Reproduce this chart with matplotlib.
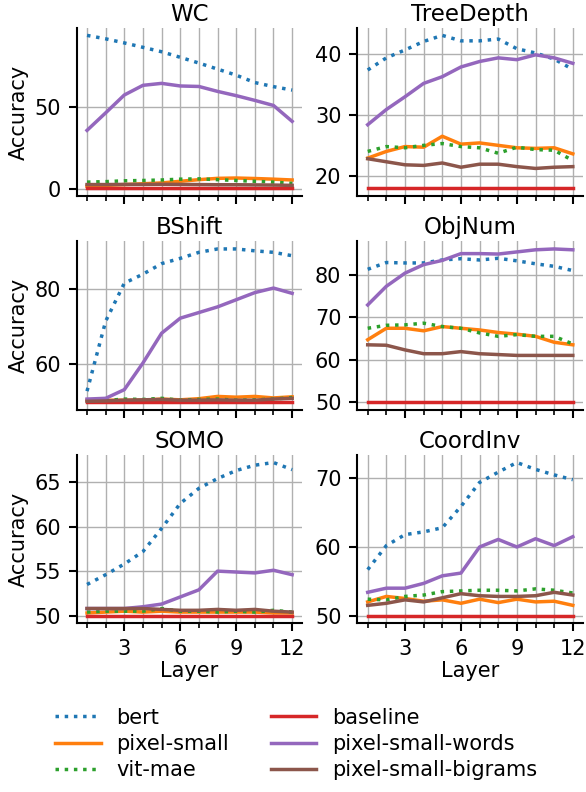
import numpy as np
import matplotlib.pyplot as plt
from matplotlib.ticker import MultipleLocator

layers = np.arange(1, 13)

tasks = ['WC', 'TreeDepth', 'BShift', 'ObjNum', 'SOMO', 'CoordInv']
models = ['bert', 'pixel-small', 'vit-mae', 'baseline', 'pixel-small-words', 'pixel-small-bigrams']

# Accuracy per layer
wc_bert = [93.6, 91.5, 89.0, 86.3, 83.6, 80.2, 76.7, 73.0, 69.3, 64.8, 62.3, 60.2]
wc_pixel = [1.5, 2.0, 2.5, 3.0, 3.5, 4.5, 5.5, 6.3, 6.5, 6.2, 5.8, 5.3]
wc_vit = [4.0, 4.3, 4.8, 5.0, 5.3, 5.8, 6.0, 5.5, 5.0, 4.5, 4.0, 3.2]
wc_base = [0.1] * 12
wc_words = [35.6, 46.3, 57.2, 63.1, 64.3, 62.7, 62.4, 59.4, 56.8, 53.9, 50.8, 41.1]
wc_bigrams = [2.5, 2.5, 2.6, 2.6, 2.7, 2.6, 2.5, 2.4, 2.4, 2.3, 2.2, 2.0]

td_bert = [37.4, 39.4, 40.7, 42.1, 43.1, 42.2, 42.2, 42.5, 40.9, 40.2, 39.2, 37.5]
td_pixel = [22.9, 24.0, 24.8, 24.7, 26.5, 25.2, 25.4, 25.0, 24.6, 24.5, 24.6, 23.6]
td_vit = [24.0, 24.8, 24.6, 25.0, 25.3, 24.8, 24.6, 23.7, 24.7, 24.3, 24.2, 22.5]
td_base = [17.9] * 12
td_words = [28.4, 30.9, 33.0, 35.2, 36.3, 37.9, 38.8, 39.4, 39.1, 39.9, 39.4, 38.5]
td_bigrams = [22.8, 22.3, 21.8, 21.7, 22.1, 21.4, 21.9, 21.9, 21.5, 21.2, 21.4, 21.5]

bs_bert = [52.9, 71.5, 81.6, 84.0, 86.8, 88.2, 89.8, 90.7, 90.7, 90.2, 89.8, 88.9]
bs_pixel = [50.5, 50.5, 50.5, 50.5, 50.8, 50.6, 50.9, 51.5, 51.3, 51.5, 51.1, 51.4]
bs_vit = [50.3, 50.4, 50.8, 50.7, 51.0, 50.5, 50.7, 50.8, 50.5, 50.6, 50.8, 51.2]
bs_base = [50.0] * 12
bs_words = [50.8, 51.0, 53.3, 60.4, 68.3, 72.3, 73.8, 75.3, 77.2, 79.1, 80.3, 78.9]
bs_bigrams = [50.2, 50.3, 50.5, 50.6, 50.7, 50.5, 50.5, 50.6, 50.5, 50.5, 50.8, 51.0]

on_bert = [81.3, 82.9, 82.8, 82.8, 83.5, 83.8, 83.5, 83.9, 83.3, 82.6, 82.0, 81.0]
on_pixel = [64.7, 67.4, 67.4, 66.8, 67.8, 67.4, 67.0, 66.4, 66.0, 65.5, 64.1, 63.5]
on_vit = [67.4, 68.1, 68.2, 68.6, 67.8, 67.4, 66.3, 65.5, 65.9, 65.5, 65.5, 63.7]
on_base = [50.0] * 12
on_words = [72.9, 77.3, 80.4, 82.4, 83.4, 85.0, 85.0, 84.9, 85.4, 85.9, 86.1, 85.9]
on_bigrams = [63.5, 63.4, 62.3, 61.4, 61.4, 61.9, 61.4, 61.2, 61.0, 61.0, 61.0, 61.0]

somo_bert = [53.5, 54.6, 55.8, 57.2, 59.8, 62.6, 64.3, 65.4, 66.3, 66.9, 67.2, 66.4]
somo_pixel = [50.3, 50.4, 50.5, 50.4, 50.5, 50.4, 50.4, 50.4, 50.4, 50.4, 50.3, 50.3]
somo_vit = [50.4, 50.5, 50.5, 50.5, 50.8, 50.5, 50.5, 50.4, 50.5, 50.4, 50.6, 50.4]
somo_base = [50.0] * 12
somo_words = [50.8, 50.8, 50.8, 51.0, 51.3, 52.1, 52.9, 55.0, 54.9, 54.8, 55.1, 54.6]
somo_bigrams = [50.8, 50.8, 50.8, 50.8, 50.7, 50.6, 50.6, 50.7, 50.6, 50.7, 50.5, 50.4]

ci_bert = [56.7, 60.2, 61.8, 62.2, 62.8, 65.9, 69.4, 70.9, 72.3, 71.3, 70.5, 69.8]
ci_pixel = [52.0, 52.8, 52.5, 52.1, 52.3, 51.8, 52.4, 51.9, 52.4, 52.0, 52.1, 51.5]
ci_vit = [52.4, 52.3, 52.8, 53.0, 53.5, 53.6, 53.7, 53.7, 53.6, 53.9, 53.7, 53.3]
ci_base = [50.0] * 12
ci_words = [53.4, 54.0, 54.0, 54.7, 55.8, 56.2, 60.0, 61.1, 60.0, 61.2, 60.2, 61.5]
ci_bigrams = [51.5, 51.8, 52.3, 52.0, 52.6, 53.2, 52.9, 52.8, 52.8, 52.9, 53.4, 53.0]

results = [
    [wc_bert, wc_pixel, wc_vit, wc_base, wc_words, wc_bigrams],
    [td_bert, td_pixel, td_vit, td_base, td_words, td_bigrams],
    [bs_bert, bs_pixel, bs_vit, bs_base, bs_words, bs_bigrams],
    [on_bert, on_pixel, on_vit, on_base, on_words, on_bigrams],
    [somo_bert, somo_pixel, somo_vit, somo_base, somo_words, somo_bigrams],
    [ci_bert, ci_pixel, ci_vit, ci_base, ci_words, ci_bigrams],
]

yticks = [[0, 50], [20, 30, 40], [60, 80], [50, 60, 70, 80], [50, 55, 60, 65], [50, 60, 70]]

colors = ['tab:blue', 'tab:orange', 'tab:green', 'tab:red', 'tab:purple', 'tab:brown']
styles = [':', '-', ':', '-', '-', '-']

plt.rcParams['font.family'] = 'DejaVu Sans'

fig, axes = plt.subplots(3, 2, figsize=(5.86, 7.92), dpi=100, sharex=True)
fig.subplots_adjust(left=0.131, right=0.995, top=0.965, bottom=0.213, wspace=0.244, hspace=0.268)

for k, ax in enumerate(axes.flat):
    for vals, name, c, ls in zip(results[k], models, colors, styles):
        ax.plot(layers, vals, ls, color=c, lw=2.5, label=name)
    ax.set_title(tasks[k], fontsize=16.5, pad=5)
    ax.set_yticks(yticks[k])
    ax.xaxis.set_major_locator(MultipleLocator(3))
    ax.xaxis.set_minor_locator(MultipleLocator(1))
    ax.grid(axis='x', which='both', color='#b0b0b0', lw=1)
    ax.grid(axis='y', which='major', color='#b0b0b0', lw=1)
    ax.set_axisbelow(True)
    ax.spines['top'].set_visible(False)
    ax.spines['right'].set_visible(False)
    ax.spines['left'].set_linewidth(1.5)
    ax.spines['bottom'].set_linewidth(1.5)
    ax.tick_params(which='major', length=6, width=1.5, labelsize=15, pad=5.5)
    ax.tick_params(which='minor', length=3.5, width=1.2)
    if k % 2 == 0:
        ax.set_ylabel('Accuracy', fontsize=15)
    if k >= 4:
        ax.set_xlabel('Layer', fontsize=15, labelpad=1)

handles, labels = axes[0, 0].get_legend_handles_labels()
fig.legend(handles, labels, loc='upper center', bbox_to_anchor=(0.505, 0.13), ncol=2,
           frameon=False, fontsize=15, handlelength=2.2, handletextpad=0.75,
           columnspacing=2.0, labelspacing=0.3)

plt.savefig('out.png', dpi=100)
